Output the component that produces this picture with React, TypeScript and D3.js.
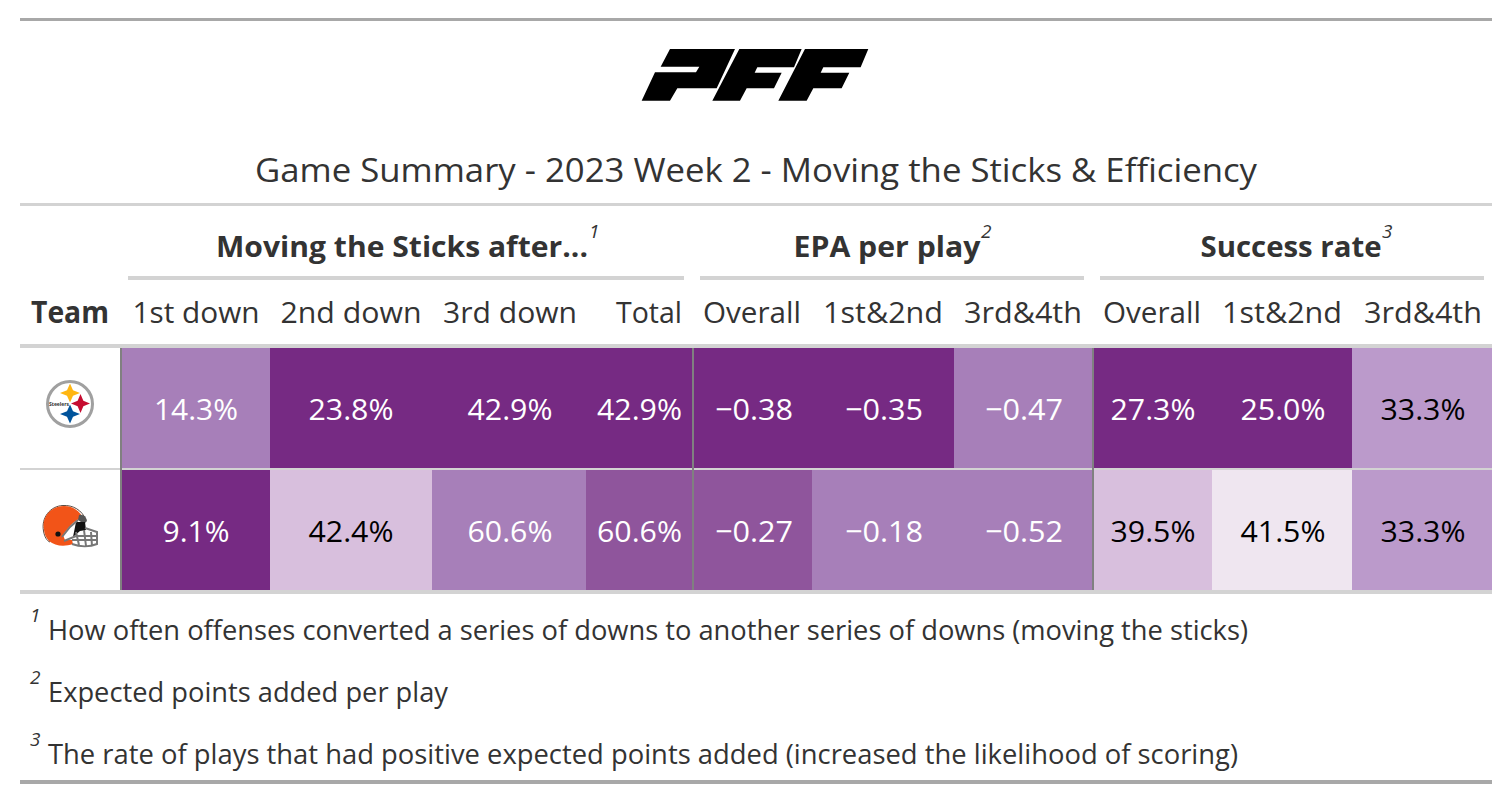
import React from "react";
import * as d3 from "d3";

const title = "Game Summary - 2023 Week 2 - Moving the Sticks & Efficiency";
const spanners = ["Moving the Sticks after...", "EPA per play", "Success rate"];
const columns = ["1st down", "2nd down", "3rd down", "Total", "Overall", "1st&2nd", "3rd&4th", "Overall", "1st&2nd", "3rd&4th"];
const teams = ["PIT", "CLE"];
const pitValues = ["14.3%", "23.8%", "42.9%", "42.9%", "−0.38", "−0.35", "−0.47", "27.3%", "25.0%", "33.3%"];
const cleValues = ["9.1%", "42.4%", "60.6%", "60.6%", "−0.27", "−0.18", "−0.52", "39.5%", "41.5%", "33.3%"];
const pitShade = [3, 1, 1, 1, 1, 1, 3, 1, 1, 4];
const cleShade = [1, 5, 3, 2, 2, 3, 3, 5, 6, 4];
const footnotes = [
  "How often offenses converted a series of downs to another series of downs (moving the sticks)",
  "Expected points added per play",
  "The rate of plays that had positive expected points added (increased the likelihood of scoring)",
];

const FONT = "'Open Sans','Noto Sans',sans-serif";
const INK = "#333333";
const edges = [122, 270, 432, 586, 694, 812, 954, 1094, 1212, 1352, 1492];
const headAnchors = [196, 351, 510, 682, 752, 883, 1023, 1152, 1282, 1423];
const textAnchors = [196, 351, 510, 682, 754, 884, 1024, 1153, 1283, 1423];
const rowTops = [348, 470];
const shade = d3.scaleOrdinal<number, string>().domain([1, 2, 3, 4, 5, 6]).range(["#762A83", "#8F559C", "#A77FB9", "#BB9ACB", "#D8BFDD", "#EFE6F0"]);
const inkOn = d3.scaleOrdinal<number, string>().domain([1, 2, 3, 4, 5, 6]).range(["#ffffff", "#ffffff", "#ffffff", "#000000", "#000000", "#000000"]);
const rows = [pitValues, cleValues];
const shades = [pitShade, cleShade];

const Rule = ({ x1 = 20, x2 = 1492, y, h, c = "#d3d3d3" }: any) => <rect x={x1} y={y} width={x2 - x1} height={h} fill={c} />;

const Sup = ({ x, y, n, size = 19 }: any) => (
  <text x={x} y={y} fontSize={size} fontStyle="italic" fill={INK}>{n}</text>
);

const Logo = () => (
  <g transform="translate(620,30) scale(0.3333)" fill="#000">
    <path d="M150,57 L345,57 L290,175 L172,175 L150,212 L65,212 L105,127 L228,127 L238,110 L122,110 Z" />
    <path d="M358,57 L545,57 L522,112 L412,112 L404,128 L485,128 L462,175 L380,175 L360,212 L277,212 Z" />
    <path d="M555,57 L745,57 L722,112 L610,112 L602,128 L688,128 L665,175 L580,175 L560,212 L475,212 Z" />
  </g>
);

const star = (cx: number, cy: number, rx: number, ry: number) => {
  const kx = rx * 0.3;
  const ky = ry * 0.3;
  return `M${cx},${cy - ry} L${cx + kx},${cy - ky} L${cx + rx},${cy} L${cx + kx},${cy + ky} L${cx},${cy + ry} L${cx - kx},${cy + ky} L${cx - rx},${cy} L${cx - kx},${cy - ky} Z`;
};

const Steelers = () => (
  <g>
    <circle cx={70} cy={404} r={22.5} fill="#fff" stroke="#a0a0a0" strokeWidth={3} />
    <path d={star(70, 393, 10, 9.5)} fill="#FFB612" />
    <path d={star(80.5, 403.5, 9.5, 9.5)} fill="#C60C30" />
    <path d={star(70, 414, 10, 9.5)} fill="#00539B" />
    <text x={59} y={405.5} fontSize={5} textAnchor="middle" fontWeight={700} fontFamily={FONT} fill="#333">Steelers</text>
  </g>
);

const Browns = () => (
  <g>
    <path d="M86,520 C82,510 73,505 63,505.5 C50,506 41,518 43.5,531 C44.5,537 47,541 50,542" fill="none" stroke="#5a4a40" strokeWidth={1} />
    <path d="M44,530 C41,516 52,506 64,506 C72,506 78,510 82,516 L79,519 C73,522 68,528 63,535 L65,540 L72,540 L73,544 C64,547 55,546 49,541 C46,538 44.5,534 44,530 Z" fill="#F25418" />
    <path d="M79,515 C83,514 86,516 87,521 L84,524 L78,520 Z" fill="#555" />
    <path d="M76,522 L85,522 L86,530 L80,531 L73,537 Z" fill="#111" />
    <path d="M62,537 L70,527 L78,520 M64,541 L76,536 L97,536 M76,532 L79,545 M84,530 L86,546 M91,532 L92,546 M72,544 C80,547 90,547 97,544 L97,532 L85,528 M72,540 L97,540" fill="none" stroke="#777" strokeWidth={2} />
    <circle cx={58} cy={534} r={2.6} fill="#111" />
  </g>
);

export default function App() {
  return (
    <svg width={1512} height={800} style={{ position: "absolute", left: 0, top: 0 }} fontFamily={FONT}>
      <rect width={1512} height={800} fill="#fff" />
      <Rule y={18} h={3} c="#a8a8a8" />
      <Logo />
      <text x={756} y={182} textAnchor="middle" fontSize={33} fill={INK} textLength={1002} lengthAdjust="spacingAndGlyphs">{title}</text>
      <Rule y={203} h={3} />

      <text x={402} y={257} textAnchor="middle" fontSize={29} fontWeight={700} fill={INK} textLength={372} lengthAdjust="spacingAndGlyphs">{spanners[0]}</text>
      <Sup x={589} y={238} n={1} />
      <text x={887} y={257} textAnchor="middle" fontSize={29} fontWeight={700} fill={INK} textLength={187} lengthAdjust="spacingAndGlyphs">{spanners[1]}</text>
      <Sup x={981} y={238} n={2} />
      <text x={1291} y={257} textAnchor="middle" fontSize={29} fontWeight={700} fill={INK} textLength={181} lengthAdjust="spacingAndGlyphs">{spanners[2]}</text>
      <Sup x={1382} y={238} n={3} />
      <Rule x1={128} x2={684} y={276} h={4} />
      <Rule x1={700} x2={1084} y={276} h={4} />
      <Rule x1={1100} x2={1484} y={276} h={4} />

      <text x={31} y={323} fontSize={30} fontWeight={700} fill={INK} textLength={78} lengthAdjust="spacingAndGlyphs">Team</text>
      {columns.map((c, i) => (
        <text key={i} x={headAnchors[i]} y={323} fontSize={29} fill={INK} textAnchor={i === 3 ? "end" : "middle"}
          textLength={[127, 141, 134, 66, 98, 120, 118, 98, 120, 118][i]} lengthAdjust="spacingAndGlyphs">{c}</text>
      ))}
      <Rule y={344} h={4} />

      {rows.map((row, r) => (
        <g key={teams[r]}>
          {row.map((v, i) => (
            <g key={i}>
              <rect x={edges[i]} y={rowTops[r]} width={edges[i + 1] - edges[i]} height={120} fill={shade(shades[r][i])} />
              <text x={textAnchors[i]} y={rowTops[r] + 72} fontSize={30} fill={inkOn(shades[r][i])} textAnchor={i === 3 ? "end" : "middle"}
                textLength={[84, 85, 85, 85, 78, 78, 78, 85, 85, 85][i] - (v.length === 4 ? 17 : 0)} lengthAdjust="spacingAndGlyphs">{v}</text>
            </g>
          ))}
        </g>
      ))}
      <Rule y={468} h={2} />
      <Rule y={590} h={4} />
      <rect x={120} y={348} width={2} height={242} fill="#808080" />
      <rect x={692} y={348} width={2} height={242} fill="#808080" />
      <rect x={1092} y={348} width={2} height={242} fill="#808080" />
      <Steelers />
      <Browns />

      {footnotes.map((f, i) => (
        <g key={i}>
          <Sup x={30} y={[622, 684, 746][i]} n={i + 1} />
          <text x={48} y={[640, 702, 764][i]} fontSize={27.5} fill={INK} textLength={[1200, 400, 1190][i]} lengthAdjust="spacingAndGlyphs">{f}</text>
        </g>
      ))}
      <Rule y={780} h={4} c="#a8a8a8" />
    </svg>
  );
}
